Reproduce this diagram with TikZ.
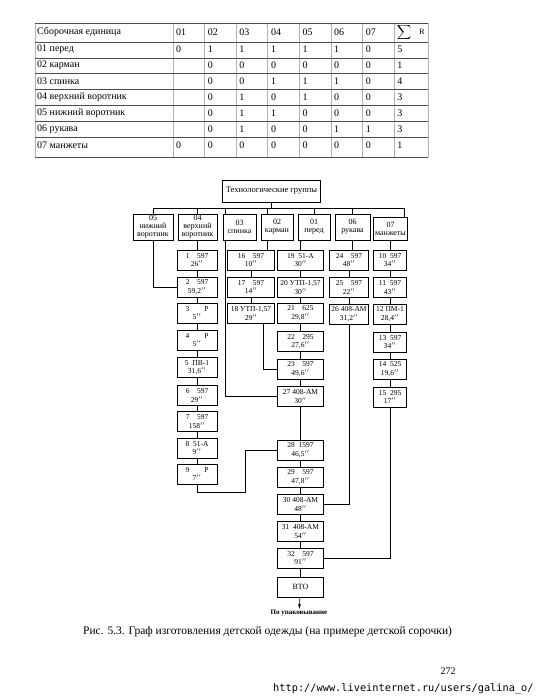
\documentclass[tikz,border=0pt]{standalone}
\usepackage{fontspec}
\setmainfont{Liberation Serif}
\newfontfamily\urlfont{DejaVu Sans Mono}
\usetikzlibrary{arrows.meta,calc}

\tikzset{
  tabv/.style={gray!60, line width=0.8pt},
  tabh/.style={black!70, line width=0.8pt},
  tabtext/.style={anchor=west, inner sep=0pt, font=\fontsize{10}{12}\selectfont},
  grpbox/.style={draw, line width=0.8pt, align=center, inner sep=0.5pt, minimum height=26pt, font=\fontsize{8}{8}\selectfont},
  opbox/.style={draw, line width=0.8pt, align=center, inner sep=0.5pt, minimum height=20pt, font=\fontsize{7.5}{8.5}\selectfont},
  link/.style={line width=0.6pt},
}

\begin{document}
\begin{tikzpicture}[x=1pt, y=-1pt]

% Page
\useasboundingbox (0,0) rectangle (540,699);
\fill[white] (0,0) rectangle (540,699);

% Table grid
\draw[tabv] (35,23) -- (35,157);
\draw[tabv] (428,23) -- (428,157);
\foreach \k in {0,...,7}{
\draw[tabv] (173+31.6*\k,23) -- (173+31.6*\k,157);
}
\foreach \yy in {23,42,58,73,89,105,121,137,157}{
\draw[tabh] (35,\yy) -- (428,\yy);
}

% Table header
\node[tabtext] at (37,32) {Сборочная единица};
\foreach \lab [count=\c] in {01,02,03,04,05,06,07}{
\node[tabtext] at (173+31.6*\c-31.6+3,32) {\lab};
}
\node[inner sep=0pt] at (404,32) {$\displaystyle\sum$};
\node[inner sep=0pt, font=\fontsize{8}{9}\selectfont] at (422,32) {R};

% Table rows
\foreach \yy/\lab/\vals in {
49/{01 перед}/{0,1,1,1,1,1,0,5},
65.5/{02 карман}/{{},0,0,0,0,0,0,1},
81/{03 спинка}/{{},0,0,1,1,1,0,4},
97/{04 верхний воротник}/{{},0,1,0,1,0,0,3},
113/{05 нижний воротник}/{{},0,1,1,0,0,0,3},
129/{06 рукава}/{{},0,1,0,0,1,1,3},
145/{07 манжеты}/{0,0,0,0,0,0,0,1}%
}{
\node[tabtext] at (37,\yy) {\lab};
\foreach \v [count=\c] in \vals{
\node[tabtext] at (173+31.6*\c-31.6+3,\yy) {\v};
}
}

% Title and group boxes
\node[draw, line width=0.8pt, minimum width=93pt, minimum height=22pt, font=\fontsize{8.5}{10}\selectfont] (title) at (271.5,191) {Технологические группы};
\node[grpbox, minimum width=40pt] (g05) at (153,227) {05\\нижний\\воротник};
\node[grpbox, minimum width=39pt] (g04) at (197.5,227) {04\\верхний\\воротник};
\node[grpbox, minimum width=33pt] (g03) at (239.5,227) {03\\спинка};
\node[grpbox, minimum width=32pt] (g02) at (277,227) {02\\карман};
\node[grpbox, minimum width=32pt] (g01) at (314,227) {01\\перед};
\node[grpbox, minimum width=35pt] (g06) at (352.5,227) {06\\рукава};
\node[grpbox, minimum width=34pt, minimum height=23pt] (g07) at (390.5,228.5) {07\\манжеты};

% Bus
\coordinate (busW) at (153,208);
\coordinate (busE) at (404,208);
\draw[link] (busW) -- (busE);
\draw[link] (title) -- (title |- busW);
\foreach \g/\xx in {05/153, 04/197.5, 03/225, 02/267, 01/314, 06/352.5, 07/404}{
\coordinate (top\g) at (\xx,208);
\draw[link] (top\g) -- (top\g |- g\g.north);
}

% Column 04
\foreach \idx/\yy/\head/\tm in {
1/260/{1\quad 597}/26,
2/287/{2\quad 597}/{59,2},
3/313/{3\qquad Р}/5,
4/340/{4\qquad Р}/5,
5/367.5/{5\enspace ПВ-1}/{31,6},
6/395.5/{6\quad 597}/29,
7/421.5/{7\quad 597}/158,
8/448/{8\enspace 51-А}/9,
9/474/{9\qquad Р}/7%
}{
\node[opbox, minimum width=40pt] (op\idx) at (197,\yy) {\head\\\tm$''$};
}

% Column 02
\foreach \idx/\yy/\head/\tm in {
16/260/{16\quad 597}/10,
17/287/{17\quad 597}/14,
18/313.5/{18 УТП-1,57}/29%
}{
\node[opbox, minimum width=47pt] (op\idx) at (251,\yy) {\head\\\tm$''$};
}

% Column 01
\foreach \idx/\yy/\head/\tm in {
19/260/{19\enspace 51-А}/30,
20/287.5/{20 УТП-1,57}/30,
21/313/{21\quad 625}/{29,8},
22/341.5/{22\quad 295}/{27,6},
23/369/{23\quad 597}/{49,6},
27/396.5/{27 408-АМ}/30,
28/450/{28\enspace 1597}/{46,5},
29/477/{29\quad 597}/{47,8},
30/504.5/{30 408-АМ}/48,
31/531.5/{31\enspace 408-АМ}/54,
32/558/{32\quad 597}/91%
}{
\node[opbox, minimum width=46pt] (op\idx) at (300.5,\yy) {\head\\\tm$''$};
}
\node[opbox, minimum width=46pt, font=\fontsize{8}{9}\selectfont] (vto) at (300.5,587) {ВТО};
\node[inner sep=1pt, font=\fontsize{7}{8}\selectfont\bfseries] (pack) at (299,613) {По упаковывание};

% Column 06
\foreach \idx/\yy/\head/\tm in {
24/260/{24\quad 597}/48,
25/287.5/{25\quad 597}/22,
26/314/{26 408-АМ}/{31,2}%
}{
\node[opbox, minimum width=39pt] (op\idx) at (349,\yy) {\head\\\tm$''$};
}

% Column 07
\foreach \idx/\yy/\head/\tm in {
10/260/{10\enspace 597}/34,
11/287.5/{11\enspace 597}/43,
12/314/{12 ПМ-1}/{28,4},
13/342/{13\enspace 597}/34,
14/369/{14\enspace 525}/{19,6},
15/397/{15\enspace 295}/17%
}{
\node[opbox, minimum width=33pt] (op\idx) at (390,\yy) {\head\\\tm$''$};
}

% Links inside columns
\foreach \a/\b in {1/2,2/3,3/4,4/5,5/6,6/7,7/8,8/9, 16/17,17/18,
19/20,20/21,21/22,22/23,23/27,27/28,28/29,29/30,30/31,31/32,
24/25,25/26, 10/11,11/12,12/13,13/14,14/15}{
\draw[link] (op\a) -- (op\b);
}
\draw[link] (op32) -- (vto);
\draw[link, -{Stealth[length=5pt,width=3pt]}] (vto) -- (pack);

% Links from groups
\draw[link] (g05.south) |- (op2.west);
\draw[link] (g04.south) -- (g04.south |- op1.north);
\draw[link] (top03 |- g03.south) |- (op27.west);
\draw[link] (top02 |- g02.south) -- (top02 |- op16.north);
\draw[link] (g01.south -| op19) -- (op19.north);
\draw[link] (g06.south) -- (g06.south |- op24.north);
\draw[link] (g07.south) -- (g07.south |- op10.north);

% Links between columns
\draw[link] ($(op18.south)+(12,0)$) |- (op23.west);
\coordinate (jog9) at (245,492);
\draw[link] (op9.south) |- (jog9) |- (op28.west);
\draw[link] (op26.south) |- (op30.east);
\draw[link] (op15.south) |- (op32.east);

% Caption, page number, address
\node[anchor=west, inner sep=0pt, font=\fontsize{11.5}{13}\selectfont] (caption) at (83,632) {Рис. 5.3. Граф изготовления детской одежды (на примере детской сорочки)};
\node[inner sep=0pt, font=\fontsize{10}{12}\selectfont] (pagenum) at (448,671) {272};
\node[anchor=west, inner sep=0pt, font=\urlfont\fontsize{10.3}{12}\selectfont] (addr) at (273,689) {http://www.liveinternet.ru/users/galina\_o/};

\end{tikzpicture}
\end{document}
